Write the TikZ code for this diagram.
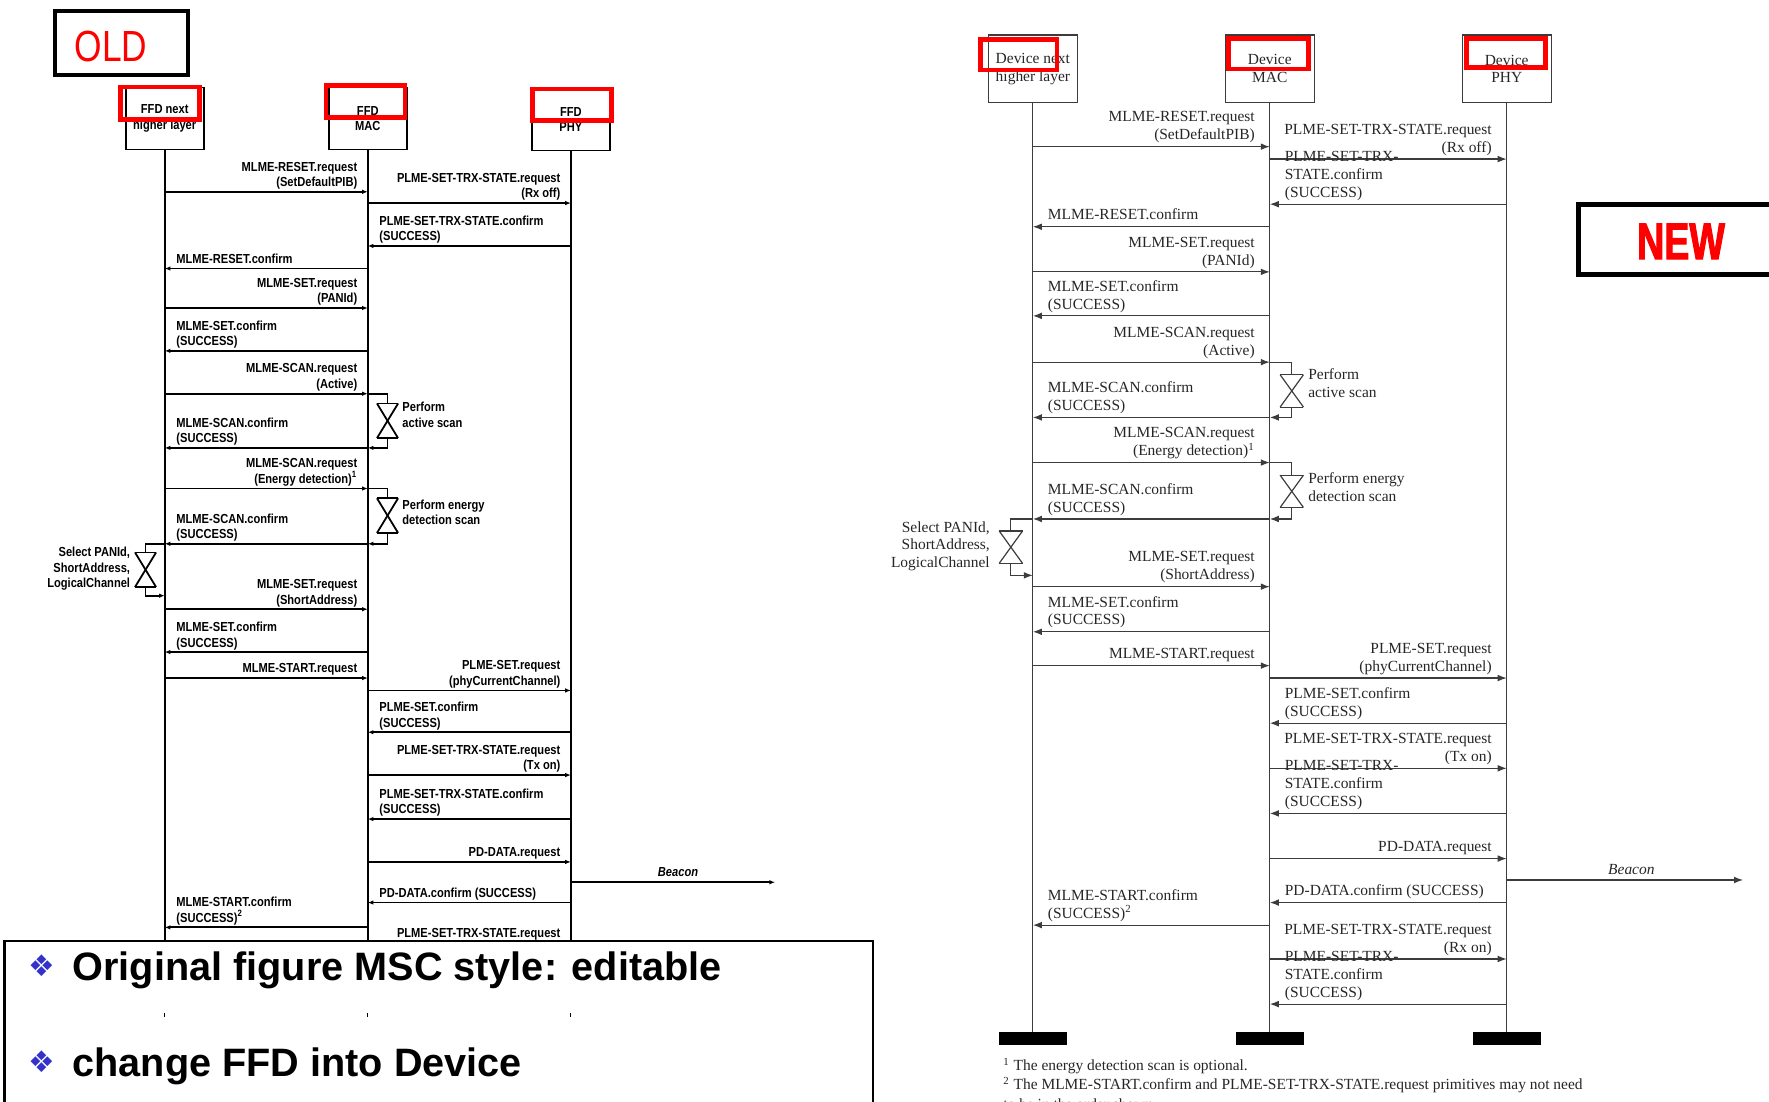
\documentclass[tikz,border=0pt]{standalone}
\usepackage{fontspec}
\setmainfont{Liberation Serif}
\newfontfamily\oldfont[FakeStretch=0.85]{Liberation Sans}
\newfontfamily\tagfont[FakeStretch=0.81]{Liberation Sans}
\newfontfamily\newtagfont[FakeStretch=0.73,FakeBold=2]{Liberation Sans}
\newfontfamily\slidefont{Liberation Sans}
\newfontfamily\symfont{DejaVu Sans}
\usepackage{xcolor}
\usetikzlibrary{arrows.meta,positioning,calc}

\definecolor{markred}{RGB}{255,0,0}
\definecolor{bulletblue}{RGB}{51,51,204}
\definecolor{msgline}{RGB}{60,60,60}
\newcommand\newmsgsize{\fontsize{7.8}{9}\selectfont}
\newcommand\oldmsgsize{\oldfont\bfseries\fontsize{6.6}{7.9}\selectfont}

\begin{document}
\begin{tikzpicture}[x=0.02cm,y=-0.02cm,
  newhdr/.style={draw=msgline,line width=0.6pt,minimum width=1.58cm,minimum height=1.2cm,inner sep=0pt,align=center,font=\newmsgsize,text=black!85},
  oldhdr/.style={draw=black,line width=0.9pt,minimum width=1.38cm,minimum height=1.1cm,inner sep=0pt,align=center,font=\oldmsgsize},
  newmsg/.style={draw=msgline,line width=0.6pt,-{Latex[length=0.16cm,width=0.12cm]}},
  oldmsg/.style={draw=black,line width=0.9pt,-{Latex[length=0.1cm,width=0.08cm]}},
  newlbl/.style={inner sep=0pt,font=\newmsgsize,text=black!85,execute at end node=\strut},
  newreq/.style={newlbl,anchor=south east,align=right},
  newconf/.style={newlbl,anchor=south west,align=left},
  oldlbl/.style={inner sep=0pt,font=\oldmsgsize,execute at end node=\strut},
  oldreq/.style={oldlbl,anchor=south east,align=right},
  oldconf/.style={oldlbl,anchor=south west,align=left},
  hgline/.style={draw=msgline,line width=0.6pt,-},
  oldhgline/.style={draw=black,line width=0.9pt,-},
  hglass/.style={minimum width=0.4cm,minimum height=0.56cm,inner sep=0pt,
    append after command={(\tikzlastnode.north west) edge[#1] (\tikzlastnode.north east)
      (\tikzlastnode.north east) edge[#1] (\tikzlastnode.south west)
      (\tikzlastnode.south west) edge[#1] (\tikzlastnode.south east)
      (\tikzlastnode.south east) edge[#1] (\tikzlastnode.north west)}},
  endbar/.style={fill=black,minimum width=1.2cm,minimum height=0.22cm,inner sep=0pt},
  markbox/.style={draw=markred,line width=2.3pt},
  tagbox/.style={draw=black,line width=2.2pt},
  fnote/.style={anchor=base west,inner sep=0pt,font=\newmsgsize,text=black!85}]
  \useasboundingbox (0,0) rectangle (1568,976);
  \clip (0,0) rectangle (1568,976);

  % ---- old figure ----
  \node[tagbox,minimum width=2.36cm,minimum height=1.14cm,inner sep=0pt] (oldbox) at (107.5,38) {};
  \node[inner sep=0pt,text=markred,font=\tagfont\fontsize{22}{22}\selectfont] (oldtag) at (98.5,41) {OLD};
  \node[oldhdr] (oHL) at (146,105) {FFD next\\higher layer};
  \node[oldhdr] (oMAC) at (326,105) {FFD\\MAC};
  \node[oldhdr] (oPHY) at (506,106) {FFD\\PHY};
  \foreach \ll in {oHL,oMAC,oPHY}
    {\coordinate (\ll0) at (\ll |- 0,900); \draw[oldhgline] (\ll) -- (\ll0);}

  \foreach \ya/\src/\dst/\txt in {170/oHL/oMAC/{MLME-RESET.request\\(SetDefaultPIB)},
      180/oMAC/oPHY/{PLME-SET-TRX-STATE.request\\(Rx off)},
      273/oHL/oMAC/{MLME-SET.request\\(PANId)},
      349/oHL/oMAC/{MLME-SCAN.request\\(Active)},
      433/oHL/oMAC/{MLME-SCAN.request\\(Energy detection)\textsuperscript{1}},
      540/oHL/oMAC/{MLME-SET.request\\(ShortAddress)},
      601/oHL/oMAC/{MLME-START.request},
      612/oMAC/oPHY/{PLME-SET.request\\(phyCurrentChannel)},
      687/oMAC/oPHY/{PLME-SET-TRX-STATE.request\\(Tx on)},
      764/oMAC/oPHY/{PD-DATA.request}}
    {\draw[oldmsg] (\src |- 0,\ya) -- (\dst |- 0,\ya);
     \node[oldreq] (oreq\ya) at ($(\dst |- 0,\ya)+(-9,0)$) {\txt};}
  \foreach \ya/\src/\dst/\txt in {218/oPHY/oMAC/{PLME-SET-TRX-STATE.confirm\\(SUCCESS)},
      238/oMAC/oHL/{MLME-RESET.confirm},
      311/oMAC/oHL/{MLME-SET.confirm\\(SUCCESS)},
      397/oMAC/oHL/{MLME-SCAN.confirm\\(SUCCESS)},
      482/oMAC/oHL/{MLME-SCAN.confirm\\(SUCCESS)},
      578/oMAC/oHL/{MLME-SET.confirm\\(SUCCESS)},
      649/oPHY/oMAC/{PLME-SET.confirm\\(SUCCESS)},
      726/oPHY/oMAC/{PLME-SET-TRX-STATE.confirm\\(SUCCESS)},
      800/oPHY/oMAC/{PD-DATA.confirm (SUCCESS)},
      822/oMAC/oHL/{MLME-START.confirm\\(SUCCESS)\textsuperscript{2}}}
    {\draw[oldmsg] (\src |- 0,\ya) -- (\dst |- 0,\ya);
     \node[oldconf] (oconf\ya) at ($(\dst |- 0,\ya)+(10,0)$) {\txt};}
  % last request, cut by the text box
  \draw[oldmsg] (oMAC |- 0,852) -- (oPHY |- 0,852);
  \node[oldlbl,execute at end node={},anchor=base east] (oreq852) at ($(oPHY |- 0,831)+(-9,0)$) {PLME-SET-TRX-STATE.request};

  \node[hglass=oldhgline,minimum width=0.36cm,minimum height=0.6cm] (ohgA) at (343.5,373) {};
  \node[hglass=oldhgline,minimum width=0.36cm,minimum height=0.6cm] (ohgB) at (343.5,457) {};
  \node[hglass=oldhgline,minimum width=0.36cm,minimum height=0.6cm] (ohgC) at (129,505) {};
  \draw[oldhgline] (oMAC |- 0,349) -| (ohgA.north);
  \draw[oldmsg] (ohgA.south) |- (oMAC |- 0,397);
  \draw[oldhgline] (oMAC |- 0,433) -| (ohgB.north);
  \draw[oldmsg] (ohgB.south) |- (oMAC |- 0,482);
  \draw[oldhgline] (oHL |- 0,482) -| (ohgC.north);
  \draw[oldmsg] (ohgC.south) |- (oHL |- 0,528);
  \node[oldlbl,execute at end node={},align=left,right=0.07cm of ohgA,yshift=0.06cm] (onoteA) {Perform\\active scan};
  \node[oldlbl,execute at end node={},align=left,right=0.07cm of ohgB,yshift=0.02cm] (onoteB) {Perform energy\\detection scan};
  \node[oldlbl,execute at end node={},align=right,left=0.08cm of ohgC] (onoteC) {Select PANId,\\ShortAddress,\\LogicalChannel};

  \coordinate (oBeaconEnd) at (687,782);
  \draw[oldmsg] (oPHY |- oBeaconEnd) -- (oBeaconEnd);
  \node[oldlbl,execute at end node={},font=\oldfont\bfseries\itshape\fontsize{6.6}{7.9}\selectfont] (obeacon) at (601,774) {Beacon};

  % ---- slide text ----
  \draw[line width=1.1pt,fill=white] (4,834) rectangle (774,990);
  \foreach \ll in {oHL,oMAC,oPHY}
    \draw[line width=0.6pt] (\ll |- 0,898) -- (\ll |- 0,901);
  \node[inner sep=0pt,text=bulletblue,font=\symfont\fontsize{15}{15}\selectfont] (bulA) at (37,856) {❖};
  \node[inner sep=0pt,text=bulletblue,font=\symfont\fontsize{15}{15}\selectfont] (bulB) at (37,941) {❖};
  \node[anchor=base west,inner sep=0pt,font=\slidefont\bfseries\fontsize{20}{24}\selectfont] (lineA) at (64,869) {Original figure MSC style: editable};
  \node[anchor=base west,inner sep=0pt,font=\slidefont\bfseries\fontsize{20}{24}\selectfont] (lineB) at (64,954) {change FFD into Device};

  % ---- new figure ----
  \node[newhdr] (nHL) at (915.5,61) {Device next\\higher layer};
  \node[newhdr] (nMAC) at (1125.5,61) {Device\\MAC};
  \node[newhdr] (nPHY) at (1335.5,61) {Device\\PHY};
  \foreach \ll in {nHL,nMAC,nPHY}
    {\node[endbar] (\ll0) at (\ll |- 0,920.5) {}; \draw[hgline] (\ll) -- (\ll0);}

  \foreach \ya/\src/\dst/\txt in {130/nHL/nMAC/{MLME-RESET.request\\(SetDefaultPIB)},
      141/nMAC/nPHY/{PLME-SET-TRX-STATE.request\\(Rx off)},
      241/nHL/nMAC/{MLME-SET.request\\(PANId)},
      321/nHL/nMAC/{MLME-SCAN.request\\(Active)},
      410/nHL/nMAC/{MLME-SCAN.request\\(Energy detection)\textsuperscript{1}},
      520/nHL/nMAC/{MLME-SET.request\\(ShortAddress)},
      590/nHL/nMAC/{MLME-START.request},
      601/nMAC/nPHY/{PLME-SET.request\\(phyCurrentChannel)},
      681/nMAC/nPHY/{PLME-SET-TRX-STATE.request\\(Tx on)},
      761/nMAC/nPHY/{PD-DATA.request},
      850/nMAC/nPHY/{PLME-SET-TRX-STATE.request\\(Rx on)}}
    {\draw[newmsg] (\src |- 0,\ya) -- (\dst |- 0,\ya);
     \node[newreq] (nreq\ya) at ($(\dst |- 0,\ya)+(-13,-1)$) {\txt};}
  \foreach \ya/\src/\dst/\txt in {181/nPHY/nMAC/{PLME-SET-TRX-\\STATE.confirm\\(SUCCESS)},
      201/nMAC/nHL/{MLME-RESET.confirm},
      280/nMAC/nHL/{MLME-SET.confirm\\(SUCCESS)},
      370/nMAC/nHL/{MLME-SCAN.confirm\\(SUCCESS)},
      460/nMAC/nHL/{MLME-SCAN.confirm\\(SUCCESS)},
      560/nMAC/nHL/{MLME-SET.confirm\\(SUCCESS)},
      641/nPHY/nMAC/{PLME-SET.confirm\\(SUCCESS)},
      721/nPHY/nMAC/{PLME-SET-TRX-\\STATE.confirm\\(SUCCESS)},
      800/nPHY/nMAC/{PD-DATA.confirm (SUCCESS)},
      820/nMAC/nHL/{MLME-START.confirm\\(SUCCESS)\textsuperscript{2}},
      890/nPHY/nMAC/{PLME-SET-TRX-\\STATE.confirm\\(SUCCESS)}}
    {\draw[newmsg] (\src |- 0,\ya) -- (\dst |- 0,\ya);
     \node[newconf] (nconf\ya) at ($(\dst |- 0,\ya)+(13,-1)$) {\txt};}

  \node[hglass=hgline] (hgA) at (1145,346.5) {};
  \node[hglass=hgline] (hgB) at (1145,435.5) {};
  \node[hglass=hgline] (hgC) at (896,485) {};
  \draw[hgline] (nMAC |- 0,321) -| (hgA.north);
  \draw[newmsg] (hgA.south) |- (nMAC |- 0,370);
  \draw[hgline] (nMAC |- 0,410) -| (hgB.north);
  \draw[newmsg] (hgB.south) |- (nMAC |- 0,460);
  \draw[hgline] (nHL |- 0,460) -| (hgC.north);
  \draw[newmsg] (hgC.south) |- (nHL |- 0,510);
  \node[newlbl,execute at end node={},align=left,right=0.08cm of hgA,yshift=0.09cm] (noteA) {Perform\\active scan};
  \node[newlbl,execute at end node={},align=left,right=0.08cm of hgB,yshift=0.03cm] (noteB) {Perform energy\\detection scan};
  \node[newlbl,execute at end node={},align=right,left=0.16cm of hgC] (noteC) {Select PANId,\\ShortAddress,\\LogicalChannel};

  \coordinate (nBeaconEnd) at (1545,780);
  \draw[newmsg] (nPHY |- nBeaconEnd) -- (nBeaconEnd);
  \node[newlbl,execute at end node={},font=\newmsgsize\itshape] (nbeacon) at (1446,772) {Beacon};

  \node[fnote] (fnA) at (889,949) {\textsuperscript{1} The energy detection scan is optional.};
  \node[fnote] (fnB) at (889,966) {\textsuperscript{2} The MLME-START.confirm and PLME-SET-TRX-STATE.request primitives may not need};
  \node[fnote] (fnC) at (889,983) {to be in the order shown.};

  \draw[tagbox,line width=2.5pt] (1399,181) rectangle (1590,243);
  \node[inner sep=0pt,text=markred,font=\newtagfont\bfseries\fontsize{26}{26}\selectfont] (newtag) at (1490,214) {NEW};

  % ---- red marks on the headers ----
  \draw[markbox] (107,77) rectangle (177,106);
  \draw[markbox] (289,76) rectangle (359,104);
  \draw[markbox] (472,79) rectangle (542,107);
  \draw[markbox] (869,35) rectangle (937,62);
  \draw[markbox] (1089,34) rectangle (1160,61);
  \draw[markbox] (1300,34) rectangle (1370,60);
\end{tikzpicture}
\end{document}
